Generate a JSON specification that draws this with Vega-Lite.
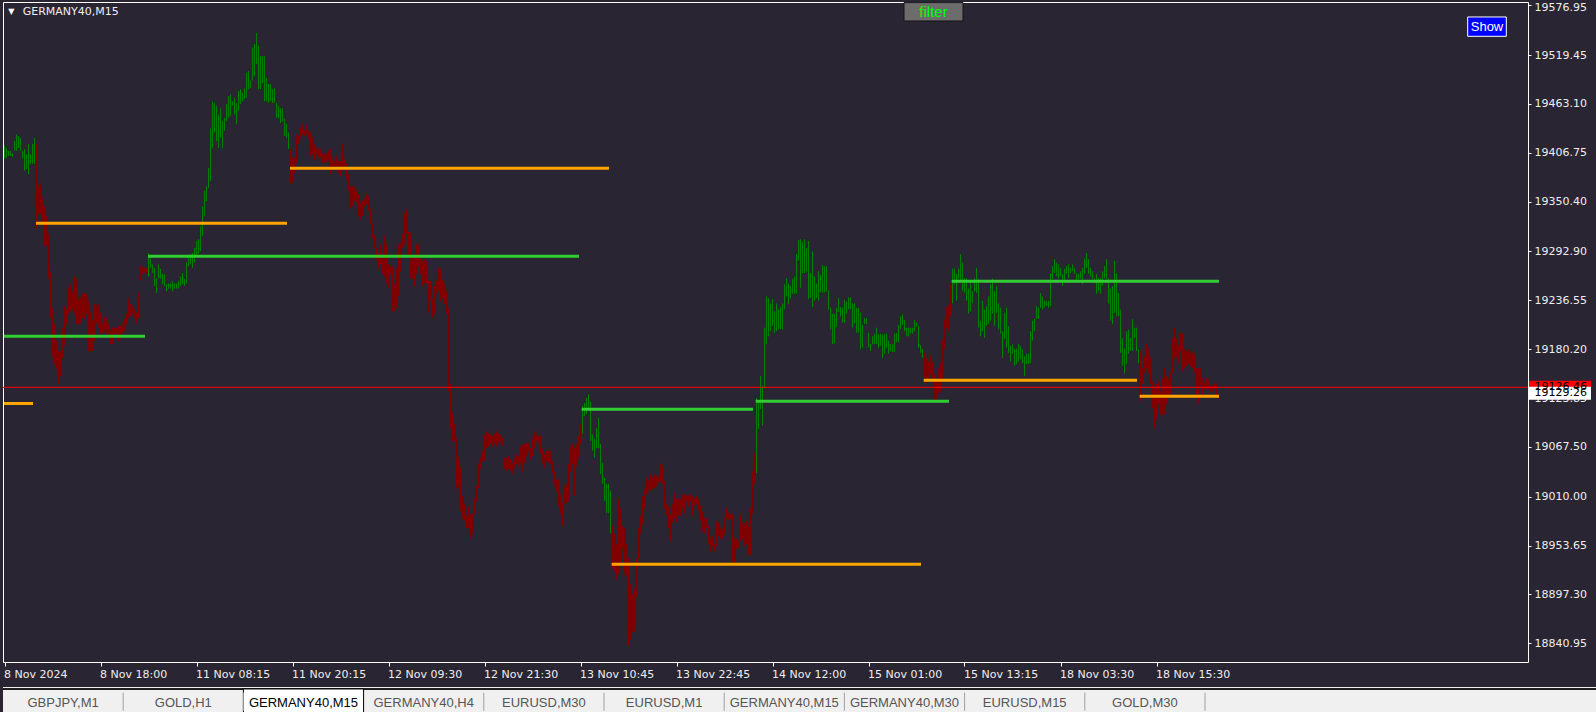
{
"$schema": "https://vega.github.io/schema/vega-lite/v6.json",
"background": "#2a2532",
"padding": {"left": 2, "top": 0, "right": 0, "bottom": 0},
"spacing": 7,
"config": {"font": "DejaVu Sans"},
"datasets": {
"bars": [
{"i":0,"h":19415,"l":19400,"c":"g"},{"i":1,"h":19412,"l":19401,"c":"g"},{"i":2,"h":19409,"l":19403,"c":"g"},{"i":3,"h":19409,"l":19403,"c":"g"},{"i":4,"h":19406,"l":19402,"c":"g"},{"i":5,"h":19420,"l":19409,"c":"g"},{"i":6,"h":19428,"l":19409,"c":"g"},{"i":7,"h":19426,"l":19412,"c":"g"},{"i":8,"h":19424,"l":19409,"c":"g"},{"i":9,"h":19409,"l":19400,"c":"g"},
{"i":10,"h":19411,"l":19386,"c":"g"},{"i":11,"h":19405,"l":19388,"c":"g"},{"i":12,"h":19417,"l":19382,"c":"g"},{"i":13,"h":19405,"l":19394,"c":"g"},{"i":14,"h":19417,"l":19394,"c":"g"},{"i":15,"h":19424,"l":19394,"c":"g"},
{"i":16,"h":19417,"l":19319,"c":"r"},{"i":17,"h":19368,"l":19336,"c":"r"},{"i":18,"h":19372,"l":19336,"c":"r"},{"i":19,"h":19354,"l":19325,"c":"r"},{"i":20,"h":19345,"l":19299,"c":"r"},{"i":21,"h":19334,"l":19299,"c":"r"},{"i":22,"h":19313,"l":19262,"c":"r"},{"i":23,"h":19270,"l":19216,"c":"r"},{"i":24,"h":19228,"l":19172,"c":"r"},{"i":25,"h":19210,"l":19163,"c":"r"},{"i":26,"h":19190,"l":19157,"c":"r"},{"i":27,"h":19178,"l":19141,"c":"r"},{"i":28,"h":19178,"l":19149,"c":"r"},{"i":29,"h":19205,"l":19170,"c":"r"},
{"i":30,"h":19230,"l":19184,"c":"r"},{"i":31,"h":19226,"l":19209,"c":"r"},{"i":32,"h":19251,"l":19221,"c":"r"},{"i":33,"h":19256,"l":19224,"c":"r"},{"i":34,"h":19245,"l":19226,"c":"r"},{"i":35,"h":19264,"l":19221,"c":"r"},{"i":36,"h":19261,"l":19209,"c":"r"},{"i":37,"h":19238,"l":19209,"c":"r"},{"i":38,"h":19239,"l":19210,"c":"r"},{"i":39,"h":19244,"l":19216,"c":"r"},
{"i":40,"h":19245,"l":19215,"c":"r"},{"i":41,"h":19244,"l":19221,"c":"r"},{"i":42,"h":19236,"l":19178,"c":"r"},{"i":43,"h":19224,"l":19178,"c":"r"},{"i":44,"h":19213,"l":19178,"c":"r"},{"i":45,"h":19232,"l":19190,"c":"r"},{"i":46,"h":19230,"l":19210,"c":"r"},{"i":47,"h":19232,"l":19205,"c":"r"},{"i":48,"h":19222,"l":19198,"c":"r"},{"i":49,"h":19210,"l":19199,"c":"r"},
{"i":50,"h":19218,"l":19201,"c":"r"},{"i":51,"h":19216,"l":19198,"c":"r"},{"i":52,"h":19209,"l":19198,"c":"r"},{"i":53,"h":19201,"l":19186,"c":"r"},{"i":54,"h":19205,"l":19186,"c":"r"},{"i":55,"h":19205,"l":19198,"c":"r"},{"i":56,"h":19205,"l":19198,"c":"r"},{"i":57,"h":19207,"l":19190,"c":"r"},{"i":58,"h":19207,"l":19192,"c":"r"},{"i":59,"h":19210,"l":19198,"c":"r"},
{"i":60,"h":19215,"l":19201,"c":"r"},{"i":61,"h":19221,"l":19209,"c":"r"},{"i":62,"h":19239,"l":19216,"c":"r"},{"i":63,"h":19232,"l":19218,"c":"r"},{"i":64,"h":19230,"l":19221,"c":"r"},{"i":65,"h":19226,"l":19216,"c":"r"},{"i":66,"h":19222,"l":19210,"c":"r"},{"i":67,"h":19245,"l":19216,"c":"r"},{"i":68,"h":19276,"l":19259,"c":"r"},{"i":69,"h":19274,"l":19267,"c":"r"},
{"i":70,"h":19274,"l":19268,"c":"r"},{"i":71,"h":19274,"l":19268,"c":"r"},
{"i":72,"h":19291,"l":19264,"c":"g"},{"i":73,"h":19285,"l":19274,"c":"g"},{"i":74,"h":19278,"l":19268,"c":"g"},{"i":75,"h":19274,"l":19253,"c":"g"},{"i":76,"h":19262,"l":19245,"c":"g"},{"i":77,"h":19278,"l":19262,"c":"g"},{"i":78,"h":19273,"l":19261,"c":"g"},{"i":79,"h":19267,"l":19255,"c":"g"},
{"i":80,"h":19267,"l":19253,"c":"g"},{"i":81,"h":19255,"l":19247,"c":"g"},{"i":82,"h":19256,"l":19250,"c":"g"},{"i":83,"h":19256,"l":19250,"c":"g"},{"i":84,"h":19259,"l":19247,"c":"g"},{"i":85,"h":19256,"l":19250,"c":"g"},{"i":86,"h":19256,"l":19250,"c":"g"},{"i":87,"h":19259,"l":19250,"c":"g"},{"i":88,"h":19264,"l":19253,"c":"g"},{"i":89,"h":19268,"l":19255,"c":"g"},
{"i":90,"h":19261,"l":19253,"c":"g"},{"i":91,"h":19280,"l":19256,"c":"g"},{"i":92,"h":19285,"l":19276,"c":"g"},{"i":93,"h":19290,"l":19278,"c":"g"},{"i":94,"h":19291,"l":19274,"c":"g"},{"i":95,"h":19297,"l":19280,"c":"g"},{"i":96,"h":19305,"l":19288,"c":"g"},{"i":97,"h":19307,"l":19290,"c":"g"},{"i":98,"h":19322,"l":19293,"c":"g"},{"i":99,"h":19345,"l":19311,"c":"g"},
{"i":100,"h":19363,"l":19334,"c":"g"},{"i":101,"h":19368,"l":19351,"c":"g"},{"i":102,"h":19389,"l":19366,"c":"g"},{"i":103,"h":19435,"l":19374,"c":"g"},{"i":104,"h":19466,"l":19412,"c":"g"},{"i":105,"h":19464,"l":19430,"c":"g"},{"i":106,"h":19461,"l":19420,"c":"g"},{"i":107,"h":19451,"l":19412,"c":"g"},{"i":108,"h":19458,"l":19424,"c":"g"},{"i":109,"h":19443,"l":19412,"c":"g"},
{"i":110,"h":19447,"l":19432,"c":"g"},{"i":111,"h":19463,"l":19443,"c":"g"},{"i":112,"h":19472,"l":19447,"c":"g"},{"i":113,"h":19474,"l":19449,"c":"g"},{"i":114,"h":19466,"l":19461,"c":"g"},{"i":115,"h":19470,"l":19451,"c":"g"},{"i":116,"h":19464,"l":19440,"c":"g"},{"i":117,"h":19478,"l":19455,"c":"g"},{"i":118,"h":19480,"l":19463,"c":"g"},{"i":119,"h":19476,"l":19466,"c":"g"},
{"i":120,"h":19481,"l":19469,"c":"g"},{"i":121,"h":19499,"l":19470,"c":"g"},{"i":122,"h":19501,"l":19480,"c":"g"},{"i":123,"h":19490,"l":19481,"c":"g"},{"i":124,"h":19528,"l":19490,"c":"g"},{"i":125,"h":19532,"l":19495,"c":"g"},{"i":126,"h":19545,"l":19509,"c":"g"},{"i":127,"h":19530,"l":19480,"c":"g"},{"i":128,"h":19518,"l":19480,"c":"g"},{"i":129,"h":19518,"l":19487,"c":"g"},
{"i":130,"h":19518,"l":19466,"c":"g"},{"i":131,"h":19493,"l":19466,"c":"g"},{"i":132,"h":19486,"l":19464,"c":"g"},{"i":133,"h":19486,"l":19466,"c":"g"},{"i":134,"h":19480,"l":19464,"c":"g"},{"i":135,"h":19481,"l":19464,"c":"g"},{"i":136,"h":19464,"l":19447,"c":"g"},{"i":137,"h":19461,"l":19446,"c":"g"},{"i":138,"h":19458,"l":19441,"c":"g"},{"i":139,"h":19458,"l":19443,"c":"g"},
{"i":140,"h":19446,"l":19426,"c":"g"},{"i":141,"h":19440,"l":19424,"c":"g"},{"i":142,"h":19430,"l":19411,"c":"g"},
{"i":143,"h":19411,"l":19371,"c":"r"},{"i":144,"h":19401,"l":19372,"c":"r"},{"i":145,"h":19401,"l":19383,"c":"r"},{"i":146,"h":19428,"l":19395,"c":"r"},{"i":147,"h":19426,"l":19417,"c":"r"},{"i":148,"h":19435,"l":19424,"c":"r"},{"i":149,"h":19440,"l":19428,"c":"r"},
{"i":150,"h":19432,"l":19426,"c":"r"},{"i":151,"h":19438,"l":19428,"c":"r"},{"i":152,"h":19432,"l":19423,"c":"r"},{"i":153,"h":19430,"l":19403,"c":"r"},{"i":154,"h":19424,"l":19405,"c":"r"},{"i":155,"h":19417,"l":19397,"c":"r"},{"i":156,"h":19412,"l":19405,"c":"r"},{"i":157,"h":19411,"l":19401,"c":"r"},{"i":158,"h":19411,"l":19401,"c":"r"},{"i":159,"h":19406,"l":19395,"c":"r"},
{"i":160,"h":19406,"l":19395,"c":"r"},{"i":161,"h":19406,"l":19397,"c":"r"},{"i":162,"h":19409,"l":19397,"c":"r"},{"i":163,"h":19411,"l":19382,"c":"r"},{"i":164,"h":19400,"l":19389,"c":"r"},{"i":165,"h":19397,"l":19391,"c":"r"},{"i":166,"h":19403,"l":19391,"c":"r"},{"i":167,"h":19397,"l":19383,"c":"r"},{"i":168,"h":19397,"l":19380,"c":"r"},{"i":169,"h":19417,"l":19391,"c":"r"},
{"i":170,"h":19400,"l":19391,"c":"r"},{"i":171,"h":19394,"l":19376,"c":"r"},{"i":172,"h":19382,"l":19363,"c":"r"},{"i":173,"h":19368,"l":19342,"c":"r"},{"i":174,"h":19368,"l":19345,"c":"r"},{"i":175,"h":19368,"l":19351,"c":"r"},{"i":176,"h":19363,"l":19349,"c":"r"},{"i":177,"h":19359,"l":19334,"c":"r"},{"i":178,"h":19349,"l":19330,"c":"r"},{"i":179,"h":19351,"l":19334,"c":"r"},
{"i":180,"h":19354,"l":19345,"c":"r"},{"i":181,"h":19359,"l":19348,"c":"r"},{"i":182,"h":19357,"l":19340,"c":"r"},{"i":183,"h":19342,"l":19325,"c":"r"},{"i":184,"h":19326,"l":19308,"c":"r"},{"i":185,"h":19311,"l":19296,"c":"r"},{"i":186,"h":19297,"l":19284,"c":"r"},{"i":187,"h":19291,"l":19273,"c":"r"},{"i":188,"h":19301,"l":19278,"c":"r"},{"i":189,"h":19285,"l":19267,"c":"r"},
{"i":190,"h":19311,"l":19264,"c":"r"},{"i":191,"h":19301,"l":19256,"c":"r"},{"i":192,"h":19278,"l":19250,"c":"r"},{"i":193,"h":19276,"l":19267,"c":"r"},{"i":194,"h":19276,"l":19224,"c":"r"},{"i":195,"h":19255,"l":19224,"c":"r"},{"i":196,"h":19273,"l":19228,"c":"r"},{"i":197,"h":19301,"l":19241,"c":"r"},{"i":198,"h":19303,"l":19270,"c":"r"},{"i":199,"h":19313,"l":19297,"c":"r"},
{"i":200,"h":19337,"l":19301,"c":"r"},{"i":201,"h":19342,"l":19313,"c":"r"},{"i":202,"h":19316,"l":19288,"c":"r"},{"i":203,"h":19314,"l":19262,"c":"r"},{"i":204,"h":19285,"l":19261,"c":"r"},{"i":205,"h":19288,"l":19253,"c":"r"},{"i":206,"h":19301,"l":19267,"c":"r"},{"i":207,"h":19301,"l":19276,"c":"r"},{"i":208,"h":19285,"l":19267,"c":"r"},{"i":209,"h":19282,"l":19253,"c":"r"},
{"i":210,"h":19284,"l":19256,"c":"r"},{"i":211,"h":19282,"l":19256,"c":"r"},{"i":212,"h":19259,"l":19222,"c":"r"},{"i":213,"h":19259,"l":19238,"c":"r"},{"i":214,"h":19238,"l":19216,"c":"r"},{"i":215,"h":19253,"l":19221,"c":"r"},{"i":216,"h":19259,"l":19244,"c":"r"},{"i":217,"h":19274,"l":19247,"c":"r"},{"i":218,"h":19273,"l":19236,"c":"r"},{"i":219,"h":19261,"l":19239,"c":"r"},
{"i":220,"h":19255,"l":19232,"c":"r"},{"i":221,"h":19247,"l":19221,"c":"r"},{"i":222,"h":19228,"l":19132,"c":"r"},{"i":223,"h":19140,"l":19089,"c":"r"},{"i":224,"h":19107,"l":19074,"c":"r"},{"i":225,"h":19094,"l":19074,"c":"r"},{"i":226,"h":19078,"l":19019,"c":"r"},{"i":227,"h":19055,"l":19022,"c":"r"},{"i":228,"h":19045,"l":18994,"c":"r"},{"i":229,"h":19011,"l":18985,"c":"r"},
{"i":230,"h":19002,"l":18982,"c":"r"},{"i":231,"h":18988,"l":18974,"c":"r"},{"i":232,"h":18999,"l":18974,"c":"r"},{"i":233,"h":18990,"l":18962,"c":"r"},{"i":234,"h":18990,"l":18967,"c":"r"},{"i":235,"h":19008,"l":18990,"c":"r"},{"i":236,"h":19022,"l":19005,"c":"r"},{"i":237,"h":19049,"l":19020,"c":"r"},{"i":238,"h":19055,"l":19042,"c":"r"},{"i":239,"h":19063,"l":19051,"c":"r"},
{"i":240,"h":19082,"l":19051,"c":"r"},{"i":241,"h":19086,"l":19066,"c":"r"},{"i":242,"h":19083,"l":19068,"c":"r"},{"i":243,"h":19082,"l":19071,"c":"r"},{"i":244,"h":19080,"l":19068,"c":"r"},{"i":245,"h":19082,"l":19072,"c":"r"},{"i":246,"h":19086,"l":19068,"c":"r"},{"i":247,"h":19083,"l":19072,"c":"r"},{"i":248,"h":19082,"l":19074,"c":"r"},{"i":249,"h":19078,"l":19068,"c":"r"},
{"i":250,"h":19055,"l":19042,"c":"r"},{"i":251,"h":19055,"l":19040,"c":"r"},{"i":252,"h":19057,"l":19042,"c":"r"},{"i":253,"h":19053,"l":19040,"c":"r"},{"i":254,"h":19049,"l":19036,"c":"r"},{"i":255,"h":19055,"l":19043,"c":"r"},{"i":256,"h":19059,"l":19048,"c":"r"},{"i":257,"h":19057,"l":19045,"c":"r"},{"i":258,"h":19068,"l":19049,"c":"r"},{"i":259,"h":19071,"l":19040,"c":"r"},
{"i":260,"h":19071,"l":19049,"c":"r"},{"i":261,"h":19072,"l":19057,"c":"r"},{"i":262,"h":19072,"l":19063,"c":"r"},{"i":263,"h":19066,"l":19053,"c":"r"},{"i":264,"h":19077,"l":19057,"c":"r"},{"i":265,"h":19086,"l":19066,"c":"r"},{"i":266,"h":19082,"l":19074,"c":"r"},{"i":267,"h":19080,"l":19071,"c":"r"},{"i":268,"h":19080,"l":19060,"c":"r"},{"i":269,"h":19065,"l":19049,"c":"r"},
{"i":270,"h":19059,"l":19043,"c":"r"},{"i":271,"h":19063,"l":19051,"c":"r"},{"i":272,"h":19063,"l":19049,"c":"r"},{"i":273,"h":19063,"l":19048,"c":"r"},{"i":274,"h":19051,"l":19037,"c":"r"},{"i":275,"h":19040,"l":19022,"c":"r"},{"i":276,"h":19030,"l":19017,"c":"r"},{"i":277,"h":19030,"l":18999,"c":"r"},{"i":278,"h":19013,"l":18990,"c":"r"},{"i":279,"h":19003,"l":18976,"c":"r"},
{"i":280,"h":19022,"l":19002,"c":"r"},{"i":281,"h":19025,"l":19003,"c":"r"},{"i":282,"h":19048,"l":19005,"c":"r"},{"i":283,"h":19068,"l":19040,"c":"r"},{"i":284,"h":19071,"l":19048,"c":"r"},{"i":285,"h":19065,"l":19011,"c":"r"},{"i":286,"h":19071,"l":19045,"c":"r"},{"i":287,"h":19080,"l":19055,"c":"r"},{"i":288,"h":19094,"l":19071,"c":"r"},
{"i":289,"h":19115,"l":19083,"c":"g"},{"i":290,"h":19118,"l":19103,"c":"g"},{"i":291,"h":19124,"l":19105,"c":"g"},{"i":292,"h":19128,"l":19111,"c":"g"},{"i":293,"h":19120,"l":19074,"c":"g"},{"i":294,"h":19082,"l":19063,"c":"g"},{"i":295,"h":19077,"l":19055,"c":"g"},{"i":296,"h":19089,"l":19066,"c":"g"},{"i":297,"h":19101,"l":19066,"c":"g"},{"i":298,"h":19071,"l":19036,"c":"g"},{"i":299,"h":19049,"l":19025,"c":"g"},
{"i":300,"h":19032,"l":19005,"c":"g"},{"i":301,"h":19025,"l":18991,"c":"g"},{"i":302,"h":19025,"l":18991,"c":"g"},{"i":303,"h":19017,"l":18968,"c":"g"},
{"i":304,"h":18978,"l":18927,"c":"r"},{"i":305,"h":18967,"l":18924,"c":"r"},{"i":306,"h":18955,"l":18915,"c":"r"},{"i":307,"h":19007,"l":18921,"c":"r"},{"i":308,"h":18997,"l":18932,"c":"r"},{"i":309,"h":18976,"l":18950,"c":"r"},
{"i":310,"h":18974,"l":18921,"c":"r"},{"i":311,"h":18955,"l":18918,"c":"r"},{"i":312,"h":18939,"l":18838,"c":"r"},{"i":313,"h":18909,"l":18846,"c":"r"},{"i":314,"h":18898,"l":18855,"c":"r"},{"i":315,"h":18904,"l":18853,"c":"r"},{"i":316,"h":18939,"l":18895,"c":"r"},{"i":317,"h":18973,"l":18938,"c":"r"},{"i":318,"h":18988,"l":18967,"c":"r"},{"i":319,"h":19011,"l":18978,"c":"r"},
{"i":320,"h":19019,"l":18996,"c":"r"},{"i":321,"h":19032,"l":19013,"c":"r"},{"i":322,"h":19028,"l":19017,"c":"r"},{"i":323,"h":19036,"l":19017,"c":"r"},{"i":324,"h":19032,"l":19019,"c":"r"},{"i":325,"h":19036,"l":19020,"c":"r"},{"i":326,"h":19034,"l":19022,"c":"r"},{"i":327,"h":19034,"l":19026,"c":"r"},{"i":328,"h":19048,"l":19028,"c":"r"},{"i":329,"h":19045,"l":19025,"c":"r"},
{"i":330,"h":19028,"l":18997,"c":"r"},{"i":331,"h":19002,"l":18988,"c":"r"},{"i":332,"h":18999,"l":18974,"c":"r"},{"i":333,"h":18990,"l":18959,"c":"r"},{"i":334,"h":19002,"l":18980,"c":"r"},{"i":335,"h":19014,"l":18985,"c":"r"},{"i":336,"h":19008,"l":18980,"c":"r"},{"i":337,"h":19007,"l":18988,"c":"r"},{"i":338,"h":19007,"l":18988,"c":"r"},{"i":339,"h":19013,"l":18997,"c":"r"},
{"i":340,"h":19013,"l":18991,"c":"r"},{"i":341,"h":19011,"l":19005,"c":"r"},{"i":342,"h":19011,"l":18999,"c":"r"},{"i":343,"h":19013,"l":19005,"c":"r"},{"i":344,"h":19011,"l":18988,"c":"r"},{"i":345,"h":19008,"l":18999,"c":"r"},{"i":346,"h":19011,"l":19002,"c":"r"},{"i":347,"h":19007,"l":18994,"c":"r"},{"i":348,"h":18999,"l":18982,"c":"r"},{"i":349,"h":18993,"l":18970,"c":"r"},
{"i":350,"h":18985,"l":18968,"c":"r"},{"i":351,"h":18985,"l":18974,"c":"r"},{"i":352,"h":18976,"l":18955,"c":"r"},{"i":353,"h":18962,"l":18947,"c":"r"},{"i":354,"h":18965,"l":18953,"c":"r"},{"i":355,"h":18955,"l":18947,"c":"r"},{"i":356,"h":18982,"l":18953,"c":"r"},{"i":357,"h":18980,"l":18965,"c":"r"},{"i":358,"h":18975,"l":18961,"c":"r"},{"i":359,"h":18973,"l":18962,"c":"r"},
{"i":360,"h":18985,"l":18967,"c":"r"},{"i":361,"h":18997,"l":18984,"c":"r"},{"i":362,"h":18991,"l":18984,"c":"r"},{"i":363,"h":18990,"l":18984,"c":"r"},{"i":364,"h":18990,"l":18934,"c":"r"},{"i":365,"h":18962,"l":18934,"c":"r"},{"i":366,"h":18962,"l":18950,"c":"r"},{"i":367,"h":18959,"l":18951,"c":"r"},{"i":368,"h":18989,"l":18959,"c":"r"},{"i":369,"h":18980,"l":18961,"c":"r"},
{"i":370,"h":18979,"l":18953,"c":"r"},{"i":371,"h":18982,"l":18955,"c":"r"},{"i":372,"h":18975,"l":18942,"c":"r"},{"i":373,"h":18997,"l":18944,"c":"r"},{"i":374,"h":19040,"l":18990,"c":"r"},{"i":375,"h":19060,"l":19026,"c":"r"},
{"i":376,"h":19124,"l":19037,"c":"g"},{"i":377,"h":19120,"l":19088,"c":"g"},{"i":378,"h":19149,"l":19111,"c":"g"},{"i":379,"h":19138,"l":19092,"c":"g"},
{"i":380,"h":19205,"l":19135,"c":"g"},{"i":381,"h":19241,"l":19186,"c":"g"},{"i":382,"h":19239,"l":19195,"c":"g"},{"i":383,"h":19233,"l":19201,"c":"g"},{"i":384,"h":19238,"l":19207,"c":"g"},{"i":385,"h":19224,"l":19199,"c":"g"},{"i":386,"h":19233,"l":19201,"c":"g"},{"i":387,"h":19226,"l":19203,"c":"g"},{"i":388,"h":19229,"l":19203,"c":"g"},{"i":389,"h":19233,"l":19203,"c":"g"},
{"i":390,"h":19255,"l":19226,"c":"g"},{"i":391,"h":19262,"l":19241,"c":"g"},{"i":392,"h":19256,"l":19232,"c":"g"},{"i":393,"h":19253,"l":19239,"c":"g"},{"i":394,"h":19261,"l":19244,"c":"g"},{"i":395,"h":19264,"l":19244,"c":"g"},{"i":396,"h":19290,"l":19244,"c":"g"},{"i":397,"h":19306,"l":19282,"c":"g"},{"i":398,"h":19307,"l":19251,"c":"g"},{"i":399,"h":19304,"l":19268,"c":"g"},
{"i":400,"h":19307,"l":19268,"c":"g"},{"i":401,"h":19297,"l":19270,"c":"g"},{"i":402,"h":19305,"l":19238,"c":"g"},{"i":403,"h":19268,"l":19239,"c":"g"},{"i":404,"h":19293,"l":19229,"c":"g"},{"i":405,"h":19264,"l":19236,"c":"g"},{"i":406,"h":19256,"l":19239,"c":"g"},{"i":407,"h":19270,"l":19236,"c":"g"},{"i":408,"h":19266,"l":19246,"c":"g"},{"i":409,"h":19277,"l":19245,"c":"g"},
{"i":410,"h":19276,"l":19246,"c":"g"},{"i":411,"h":19276,"l":19247,"c":"g"},{"i":412,"h":19248,"l":19226,"c":"g"},{"i":413,"h":19228,"l":19203,"c":"g"},{"i":414,"h":19221,"l":19186,"c":"g"},{"i":415,"h":19221,"l":19187,"c":"g"},{"i":416,"h":19228,"l":19206,"c":"g"},{"i":417,"h":19239,"l":19223,"c":"g"},{"i":418,"h":19229,"l":19218,"c":"g"},{"i":419,"h":19228,"l":19211,"c":"g"},
{"i":420,"h":19237,"l":19210,"c":"g"},{"i":421,"h":19235,"l":19221,"c":"g"},{"i":422,"h":19240,"l":19226,"c":"g"},{"i":423,"h":19240,"l":19226,"c":"g"},{"i":424,"h":19233,"l":19205,"c":"g"},{"i":425,"h":19233,"l":19210,"c":"g"},{"i":426,"h":19228,"l":19199,"c":"g"},{"i":427,"h":19228,"l":19199,"c":"g"},{"i":428,"h":19222,"l":19180,"c":"g"},{"i":429,"h":19208,"l":19182,"c":"g"},
{"i":430,"h":19216,"l":19209,"c":"g"},{"i":431,"h":19216,"l":19209,"c":"g"},{"i":432,"h":19199,"l":19182,"c":"g"},{"i":433,"h":19186,"l":19178,"c":"g"},{"i":434,"h":19195,"l":19186,"c":"g"},{"i":435,"h":19198,"l":19186,"c":"g"},{"i":436,"h":19205,"l":19186,"c":"g"},{"i":437,"h":19197,"l":19182,"c":"g"},{"i":438,"h":19198,"l":19184,"c":"g"},{"i":439,"h":19197,"l":19170,"c":"g"},
{"i":440,"h":19198,"l":19175,"c":"g"},{"i":441,"h":19198,"l":19182,"c":"g"},{"i":442,"h":19190,"l":19175,"c":"g"},{"i":443,"h":19186,"l":19178,"c":"g"},{"i":444,"h":19186,"l":19177,"c":"g"},{"i":445,"h":19198,"l":19177,"c":"g"},{"i":446,"h":19199,"l":19188,"c":"g"},{"i":447,"h":19208,"l":19188,"c":"g"},{"i":448,"h":19218,"l":19203,"c":"g"},{"i":449,"h":19220,"l":19208,"c":"g"},
{"i":450,"h":19214,"l":19201,"c":"g"},{"i":451,"h":19205,"l":19195,"c":"g"},{"i":452,"h":19205,"l":19195,"c":"g"},{"i":453,"h":19205,"l":19198,"c":"g"},{"i":454,"h":19205,"l":19198,"c":"g"},{"i":455,"h":19214,"l":19201,"c":"g"},{"i":456,"h":19211,"l":19206,"c":"g"},{"i":457,"h":19207,"l":19182,"c":"g"},{"i":458,"h":19185,"l":19176,"c":"g"},{"i":459,"h":19180,"l":19170,"c":"g"},
{"i":460,"h":19176,"l":19147,"c":"r"},{"i":461,"h":19170,"l":19141,"c":"r"},{"i":462,"h":19166,"l":19147,"c":"r"},{"i":463,"h":19173,"l":19152,"c":"r"},{"i":464,"h":19166,"l":19146,"c":"r"},{"i":465,"h":19151,"l":19123,"c":"r"},{"i":466,"h":19143,"l":19123,"c":"r"},{"i":467,"h":19157,"l":19130,"c":"r"},{"i":468,"h":19164,"l":19130,"c":"r"},{"i":469,"h":19191,"l":19143,"c":"r"},
{"i":470,"h":19215,"l":19180,"c":"r"},{"i":471,"h":19228,"l":19205,"c":"r"},{"i":472,"h":19231,"l":19201,"c":"r"},{"i":473,"h":19256,"l":19218,"c":"r"},
{"i":474,"h":19273,"l":19233,"c":"g"},{"i":475,"h":19273,"l":19255,"c":"g"},{"i":476,"h":19267,"l":19236,"c":"g"},{"i":477,"h":19273,"l":19261,"c":"g"},{"i":478,"h":19290,"l":19259,"c":"g"},{"i":479,"h":19280,"l":19247,"c":"g"},
{"i":480,"h":19262,"l":19245,"c":"g"},{"i":481,"h":19262,"l":19236,"c":"g"},{"i":482,"h":19250,"l":19221,"c":"g"},{"i":483,"h":19256,"l":19224,"c":"g"},{"i":484,"h":19247,"l":19233,"c":"g"},{"i":485,"h":19262,"l":19247,"c":"g"},{"i":486,"h":19274,"l":19245,"c":"g"},{"i":487,"h":19261,"l":19205,"c":"g"},{"i":488,"h":19213,"l":19195,"c":"g"},{"i":489,"h":19236,"l":19201,"c":"g"},
{"i":490,"h":19226,"l":19193,"c":"g"},{"i":491,"h":19230,"l":19207,"c":"g"},{"i":492,"h":19241,"l":19209,"c":"g"},{"i":493,"h":19255,"l":19213,"c":"g"},{"i":494,"h":19262,"l":19221,"c":"g"},{"i":495,"h":19247,"l":19207,"c":"g"},{"i":496,"h":19253,"l":19222,"c":"g"},{"i":497,"h":19233,"l":19203,"c":"g"},{"i":498,"h":19228,"l":19198,"c":"g"},{"i":499,"h":19201,"l":19170,"c":"g"},
{"i":500,"h":19222,"l":19192,"c":"g"},{"i":501,"h":19228,"l":19182,"c":"g"},{"i":502,"h":19207,"l":19176,"c":"g"},{"i":503,"h":19184,"l":19166,"c":"g"},{"i":504,"h":19186,"l":19175,"c":"g"},{"i":505,"h":19181,"l":19161,"c":"g"},{"i":506,"h":19181,"l":19163,"c":"g"},{"i":507,"h":19186,"l":19166,"c":"g"},{"i":508,"h":19184,"l":19169,"c":"g"},{"i":509,"h":19180,"l":19164,"c":"g"},
{"i":510,"h":19172,"l":19149,"c":"g"},{"i":511,"h":19175,"l":19163,"c":"g"},{"i":512,"h":19175,"l":19163,"c":"g"},{"i":513,"h":19201,"l":19164,"c":"g"},{"i":514,"h":19213,"l":19190,"c":"g"},{"i":515,"h":19215,"l":19201,"c":"g"},{"i":516,"h":19230,"l":19215,"c":"g"},{"i":517,"h":19228,"l":19215,"c":"g"},{"i":518,"h":19245,"l":19228,"c":"g"},{"i":519,"h":19241,"l":19226,"c":"g"},
{"i":520,"h":19236,"l":19228,"c":"g"},{"i":521,"h":19236,"l":19230,"c":"g"},{"i":522,"h":19236,"l":19228,"c":"g"},{"i":523,"h":19268,"l":19230,"c":"g"},{"i":524,"h":19276,"l":19261,"c":"g"},{"i":525,"h":19284,"l":19268,"c":"g"},{"i":526,"h":19280,"l":19264,"c":"g"},{"i":527,"h":19278,"l":19261,"c":"g"},{"i":528,"h":19274,"l":19264,"c":"g"},{"i":529,"h":19267,"l":19253,"c":"g"},
{"i":530,"h":19273,"l":19259,"c":"g"},{"i":531,"h":19276,"l":19267,"c":"g"},{"i":532,"h":19278,"l":19262,"c":"g"},{"i":533,"h":19274,"l":19268,"c":"g"},{"i":534,"h":19278,"l":19270,"c":"g"},{"i":535,"h":19274,"l":19267,"c":"g"},{"i":536,"h":19268,"l":19259,"c":"g"},{"i":537,"h":19267,"l":19261,"c":"g"},{"i":538,"h":19270,"l":19261,"c":"g"},{"i":539,"h":19274,"l":19255,"c":"g"},
{"i":540,"h":19285,"l":19267,"c":"g"},{"i":541,"h":19291,"l":19274,"c":"g"},{"i":542,"h":19284,"l":19267,"c":"g"},{"i":543,"h":19274,"l":19264,"c":"g"},{"i":544,"h":19270,"l":19261,"c":"g"},{"i":545,"h":19262,"l":19256,"c":"g"},{"i":546,"h":19267,"l":19244,"c":"g"},{"i":547,"h":19262,"l":19247,"c":"g"},{"i":548,"h":19262,"l":19244,"c":"g"},{"i":549,"h":19270,"l":19253,"c":"g"},
{"i":550,"h":19276,"l":19262,"c":"g"},{"i":551,"h":19284,"l":19261,"c":"g"},{"i":552,"h":19262,"l":19233,"c":"g"},{"i":553,"h":19250,"l":19213,"c":"g"},{"i":554,"h":19253,"l":19209,"c":"g"},{"i":555,"h":19282,"l":19222,"c":"g"},{"i":556,"h":19268,"l":19218,"c":"g"},{"i":557,"h":19245,"l":19218,"c":"g"},{"i":558,"h":19226,"l":19176,"c":"g"},{"i":559,"h":19193,"l":19161,"c":"g"},
{"i":560,"h":19181,"l":19152,"c":"g"},{"i":561,"h":19201,"l":19163,"c":"g"},{"i":562,"h":19203,"l":19175,"c":"g"},{"i":563,"h":19193,"l":19178,"c":"g"},{"i":564,"h":19215,"l":19178,"c":"g"},{"i":565,"h":19205,"l":19193,"c":"g"},{"i":566,"h":19205,"l":19178,"c":"g"},{"i":567,"h":19180,"l":19164,"c":"g"},
{"i":568,"h":19178,"l":19120,"c":"r"},{"i":569,"h":19158,"l":19140,"c":"r"},
{"i":570,"h":19172,"l":19153,"c":"r"},{"i":571,"h":19186,"l":19158,"c":"r"},{"i":572,"h":19181,"l":19152,"c":"r"},{"i":573,"h":19170,"l":19140,"c":"r"},{"i":574,"h":19143,"l":19112,"c":"r"},{"i":575,"h":19135,"l":19089,"c":"r"},{"i":576,"h":19140,"l":19100,"c":"r"},{"i":577,"h":19143,"l":19117,"c":"r"},{"i":578,"h":19132,"l":19105,"c":"r"},{"i":579,"h":19147,"l":19105,"c":"r"},
{"i":580,"h":19158,"l":19105,"c":"r"},{"i":581,"h":19149,"l":19117,"c":"r"},{"i":582,"h":19146,"l":19124,"c":"r"},{"i":583,"h":19153,"l":19124,"c":"r"},{"i":584,"h":19193,"l":19152,"c":"r"},{"i":585,"h":19205,"l":19170,"c":"r"},{"i":586,"h":19193,"l":19172,"c":"r"},{"i":587,"h":19184,"l":19164,"c":"r"},{"i":588,"h":19199,"l":19178,"c":"r"},{"i":589,"h":19198,"l":19155,"c":"r"},
{"i":590,"h":19180,"l":19158,"c":"r"},{"i":591,"h":19178,"l":19161,"c":"r"},{"i":592,"h":19180,"l":19163,"c":"r"},{"i":593,"h":19176,"l":19161,"c":"r"},{"i":594,"h":19176,"l":19158,"c":"r"},{"i":595,"h":19175,"l":19153,"c":"r"},{"i":596,"h":19158,"l":19128,"c":"r"},{"i":597,"h":19158,"l":19118,"c":"r"},{"i":598,"h":19158,"l":19138,"c":"r"},{"i":599,"h":19147,"l":19128,"c":"r"},
{"i":600,"h":19141,"l":19134,"c":"r"},{"i":601,"h":19147,"l":19134,"c":"r"},{"i":602,"h":19146,"l":19135,"c":"r"},{"i":603,"h":19138,"l":19130,"c":"r"},{"i":604,"h":19138,"l":19132,"c":"r"},{"i":605,"h":19141,"l":19134,"c":"r"},{"i":606,"h":19141,"l":19126,"c":"r"}
],
"levels": [
{"a":-0.25,"b":14.25,"p":19117.5,"t":"o"},
{"a":15.75,"b":141.25,"p":19325.4,"t":"o"},
{"a":142.75,"b":302.25,"p":19388.8,"t":"o"},
{"a":303.6,"b":458.25,"p":18932.1,"t":"o"},
{"a":459.6,"b":566.25,"p":19144.3,"t":"o"},
{"a":567.6,"b":607.25,"p":19125.8,"t":"o"},
{"a":-0.25,"b":70.25,"p":19195.0,"t":"g"},
{"a":71.75,"b":287.25,"p":19287.3,"t":"g"},
{"a":288.6,"b":374.25,"p":19110.8,"t":"g"},
{"a":375.6,"b":472.25,"p":19120.1,"t":"g"},
{"a":473.6,"b":607.25,"p":19258.5,"t":"g"}
],
"quotes": [
{"q":"19126.46","p":19136.2,"k":"ask"},
{"q":"19129.26","p":19129.26,"k":"bid"}
],
"tabs": [
{"n":0,"t":"GBPJPY,M1","on":0},{"n":1,"t":"GOLD,H1","on":0},{"n":2,"t":"GERMANY40,M15","on":1},{"n":3,"t":"GERMANY40,H4","on":0},{"n":4,"t":"EURUSD,M30","on":0},{"n":5,"t":"EURUSD,M1","on":0},{"n":6,"t":"GERMANY40,M15","on":0},{"n":7,"t":"GERMANY40,M30","on":0},{"n":8,"t":"EURUSD,M15","on":0},{"n":9,"t":"GOLD,M30","on":0}
]
},
"vconcat": [
{
"width": 1525,
"height": 660,
"view": {"stroke": "#ffffff", "strokeWidth": 1, "fill": "#2a2532"},
"layer": [
{
"data": {"name": "bars"},
"mark": {"type": "rule", "strokeWidth": 1},
"encoding": {
"x": {"field": "i", "type": "quantitative",
 "scale": {"domain": [-0.75, 761.75], "nice": false, "zero": false},
 "axis": {"values": [0,48,96,144,192,240,288,336,384,432,480,528,576],
  "labelExpr": "['8 Nov 2024','8 Nov 18:00','11 Nov 08:15','11 Nov 20:15','12 Nov 09:30','12 Nov 21:30','13 Nov 10:45','13 Nov 22:45','14 Nov 12:00','15 Nov 01:00','15 Nov 13:15','18 Nov 03:30','18 Nov 15:30'][round(datum.value/48)]",
  "labelAlign": "left", "labelBaseline": "top", "labelPadding": 2, "labelOffset": -1,
  "tickSize": 4, "tickColor": "#ffffff", "domain": false, "grid": false, "title": null,
  "labelColor": "#eeeeee", "labelFont": "DejaVu Sans", "labelFontSize": 11,
  "labelOverlap": false, "labelFlush": false, "labelBound": false}},
"y": {"field": "l", "type": "quantitative",
 "scale": {"domain": [18819.38, 19580.58], "nice": false, "zero": false},
 "axis": {"orient": "right",
  "values": [19576.95,19519.45,19463.10,19406.75,19350.40,19292.90,19236.55,19180.20,19123.85,19067.50,19010.00,18953.65,18897.30,18840.95],
  "format": ".2f", "tickSize": 3, "tickColor": "#ffffff", "labelPadding": 3,
  "labelOffset": {"condition": {"test": "datum.value > 19570", "value": 2}, "value": 0},
  "domain": false, "grid": false, "title": null,
  "labelColor": "#eeeeee", "labelFont": "DejaVu Sans", "labelFontSize": 11,
  "labelOverlap": false, "labelFlush": false, "labelBound": false}},
"y2": {"field": "h"},
"color": {"field": "c", "type": "nominal", "scale": {"domain": ["g","r"], "range": ["#008000","#800000"]}, "legend": null}
}
},
{
"data": {"name": "levels"},
"mark": {"type": "rule", "strokeWidth": 3},
"encoding": {
"x": {"field": "a", "type": "quantitative"},
"x2": {"field": "b"},
"y": {"field": "p", "type": "quantitative"},
"color": {"condition": {"test": "datum.t === 'o'", "value": "#ffa500"}, "value": "#32cd32"}
}
},
{
"data": {"name": "quotes"},
"transform": [{"filter": "datum.k === 'ask'"}],
"mark": {"type": "rule", "color": "#ff0000", "strokeWidth": 1},
"encoding": {"y": {"field": "p", "type": "quantitative"}}
},
{
"data": {"name": "quotes"},
"mark": {"type": "rect", "height": 13},
"encoding": {
"x": {"datum": 762.25, "type": "quantitative"},
"x2": {"datum": 793.25},
"y": {"field": "p", "type": "quantitative"},
"color": {"condition": {"test": "datum.k === 'ask'", "value": "#ff0000"}, "value": "#ffffff"}
}
},
{
"data": {"name": "quotes"},
"mark": {"type": "text", "align": "left", "baseline": "middle", "font": "DejaVu Sans", "fontSize": 11, "color": "#000000"},
"encoding": {
"x": {"datum": 765.0, "type": "quantitative"},
"y": {"field": "p", "type": "quantitative"},
"text": {"field": "q"}
}
},
{
"data": {"values": [{"s": "GERMANY40,M15"}]},
"layer": [
{"mark": {"type": "text", "text": "▼", "align": "center", "baseline": "middle", "fontSize": 8, "color": "#ffffff"},
 "encoding": {"x": {"datum": 3.4, "type": "quantitative"}, "y": {"datum": 19569.3, "type": "quantitative"}}},
{"mark": {"type": "text", "align": "left", "baseline": "middle", "font": "DejaVu Sans", "fontSize": 11, "color": "#eeeeee"},
 "encoding": {"x": {"datum": 9.1, "type": "quantitative"}, "y": {"datum": 19569.0, "type": "quantitative"}, "text": {"field": "s"}}}
]
},
{
"data": {"values": [{"b": "filter"}]},
"layer": [
{"mark": {"type": "rect", "fill": "#6c6c6c", "stroke": "#141414", "strokeWidth": 1},
 "encoding": {"x": {"datum": 449.75, "type": "quantitative"}, "x2": {"datum": 479.25}, "y": {"datum": 19579.9, "type": "quantitative"}, "y2": {"datum": 19558.7}}},
{"mark": {"type": "text", "align": "center", "baseline": "middle", "font": "Liberation Sans", "fontSize": 15, "color": "#00ff00"},
 "encoding": {"x": {"datum": 464.5, "type": "quantitative"}, "y": {"datum": 19569.0, "type": "quantitative"}, "text": {"field": "b"}}}
]
},
{
"data": {"values": [{"b": "Show"}]},
"layer": [
{"mark": {"type": "rect", "fill": "#0000ff", "stroke": "#ffffff", "strokeWidth": 1},
 "encoding": {"x": {"datum": 731.6, "type": "quantitative"}, "x2": {"datum": 750.9}, "y": {"datum": 19563.3, "type": "quantitative"}, "y2": {"datum": 19541.0}}},
{"mark": {"type": "text", "align": "center", "baseline": "middle", "font": "Liberation Sans", "fontSize": 13, "color": "#ffffff"},
 "encoding": {"x": {"datum": 741.25, "type": "quantitative"}, "y": {"datum": 19552.0, "type": "quantitative"}, "text": {"field": "b"}}}
]
}
]
},
{
"width": 1594,
"height": 28,
"view": {"stroke": null, "fill": "#f0f0f0"},
"data": {"name": "tabs"},
"layer": [
{
"mark": {"type": "rule", "color": "#202020", "strokeWidth": 1},
"encoding": {"y": {"datum": 0.93, "type": "quantitative", "scale": {"domain": [0, 1], "nice": false, "zero": false}, "axis": null}}
},
{
"transform": [{"filter": "datum.on == 1"}],
"mark": {"type": "rect", "fill": "#ffffff", "stroke": "#000000", "strokeWidth": 1},
"encoding": {
"x": {"field": "n", "type": "ordinal", "scale": {"type": "band", "domain": [0,1,2,3,4,5,6,7,8,9], "range": [0, 1202], "paddingInner": 0, "paddingOuter": 0}, "axis": null},
"y": {"datum": -0.1, "type": "quantitative"},
"y2": {"datum": 0.93}
}
},
{
"transform": [{"filter": "datum.on == 0"}],
"mark": {"type": "rule", "color": "#a0a0a0", "strokeWidth": 1},
"encoding": {
"x": {"field": "n", "type": "ordinal", "bandPosition": 1},
"y": {"datum": 0.15, "type": "quantitative"},
"y2": {"datum": 0.8}
}
},
{
"mark": {"type": "text", "align": "center", "baseline": "middle", "font": "Liberation Sans", "fontSize": 13},
"encoding": {
"x": {"field": "n", "type": "ordinal"},
"y": {"datum": 0.44, "type": "quantitative"},
"text": {"field": "t"},
"color": {"condition": {"test": "datum.on == 1", "value": "#000000"}, "value": "#555555"}
}
}
]
}
]
}
